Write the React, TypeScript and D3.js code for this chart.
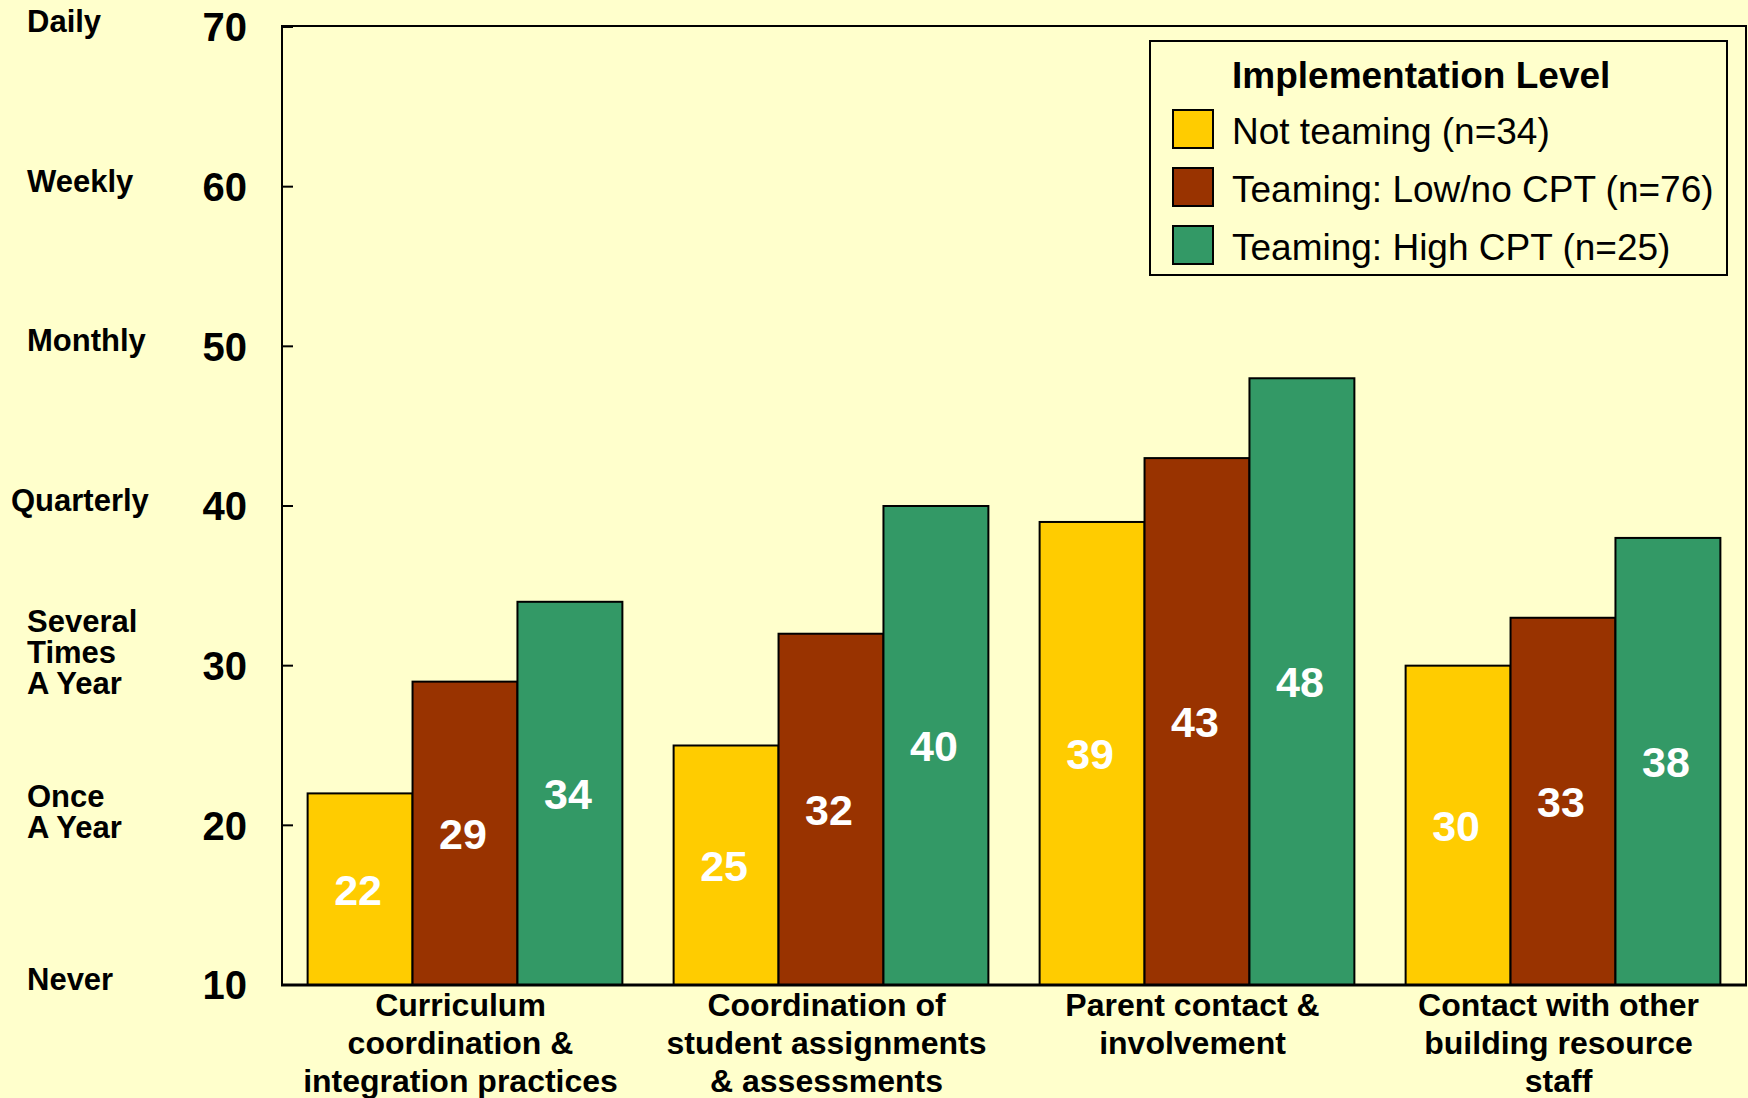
import * as d3 from "d3";

const categories = [
  ["Curriculum", "coordination &", "integration practices"],
  ["Coordination of", "student assignments", "& assessments"],
  ["Parent contact &", "involvement"],
  ["Contact with other", "building resource", "staff"],
];

const seriesNames = [
  "Not teaming (n=34)",
  "Teaming: Low/no CPT (n=76)",
  "Teaming: High CPT (n=25)",
];

const notTeaming = [22, 25, 39, 30];
const lowCpt = [29, 32, 43, 33];
const highCpt = [34, 40, 48, 38];

const yTicks = [10, 20, 30, 40, 50, 60, 70];
const levelLabels = [
  ["Never"],
  ["Once", "A Year"],
  ["Several", "Times", "A Year"],
  ["Quarterly"],
  ["Monthly"],
  ["Weekly"],
  ["Daily"],
];

const colors = ["#FFCC00", "#993300", "#339966"];

const W = 1748;
const H = 1098;
const left = 282;
const right = 1746;
const top = 27;
const bottom = 985;

const App = () => {
  const series = [notTeaming, lowCpt, highCpt];
  const keys = categories.map((c) => c.join(" "));

  const x0 = d3
    .scaleBand<string>()
    .domain(keys)
    .range([left, right])
    .paddingInner(0.14)
    .paddingOuter(0.07);

  const x1 = d3
    .scaleBand<number>()
    .domain(d3.range(series.length))
    .range([0, x0.bandwidth()]);

  const y = d3.scaleLinear().domain([10, 70]).range([bottom, top]);

  const font = "Arial, 'Liberation Sans', Helvetica, sans-serif";

  return (
    <div style={{ position: "absolute", left: 0, top: 0 }}>
      <svg width={W} height={H} style={{ display: "block" }} fontFamily={font}>
        <rect width={W} height={H} fill="#FFFFCC" />

        {/* bars */}
        {keys.map((k, ci) => (
          <g key={k} transform={`translate(${x0(k)},0)`}>
            {series.map((s, si) => {
              const v = s[ci];
              const bx = x1(si)!;
              const bw = x1.bandwidth();
              return (
                <g key={si}>
                  <rect
                    x={bx}
                    y={y(v)}
                    width={bw}
                    height={y(10) - y(v)}
                    fill={colors[si]}
                    stroke="#000"
                    strokeWidth={2}
                  />
                  <text
                    x={bx + bw / 2 - 2}
                    y={(y(v) + y(10)) / 2}
                    dy="0.36em"
                    textAnchor="middle"
                    fill="#fff"
                    fontWeight="bold"
                    fontSize={43}
                  >
                    {v}
                  </text>
                </g>
              );
            })}
          </g>
        ))}

        {/* frame */}
        <rect
          x={left}
          y={top - 1}
          width={right - left}
          height={bottom - top + 1}
          fill="none"
          stroke="#000"
          strokeWidth={2}
        />
        <line x1={left - 1} x2={right + 1} y1={bottom} y2={bottom} stroke="#000" strokeWidth={3} />

        {/* y ticks */}
        {yTicks.map((t, i) => {
          const ty = y(t);
          const lines = levelLabels[i];
          const n = lines.length;
          const lx = lines[0] === "Quarterly" ? 11 : 27;
          const first = ty + 5 - ((n - 1) * 31) / 2 - (n > 1 ? 8 : 0);
          return (
            <g key={t}>
              <line x1={left} x2={left + 11} y1={ty} y2={ty} stroke="#000" strokeWidth={2} />
              <text
                x={247}
                y={ty}
                dy="0.36em"
                textAnchor="end"
                fontWeight="bold"
                fontSize={40}
              >
                {t}
              </text>
              {lines.map((l, li) => (
                <text key={li} x={lx} y={first + li * 31} fontWeight="bold" fontSize={31}>
                  {l}
                </text>
              ))}
            </g>
          );
        })}

        {/* category labels */}
        {categories.map((lines, ci) => {
          const cx = x0(keys[ci])! + x0.bandwidth() / 2 - 4.5;
          return (
            <text key={ci} textAnchor="middle" fontWeight="bold" fontSize={32}>
              {lines.map((l, li) => (
                <tspan key={li} x={cx} y={1016 + li * 38}>
                  {l}
                </tspan>
              ))}
            </text>
          );
        })}

        {/* legend */}
        <g>
          <rect x={1150} y={41} width={577} height={234} fill="#FFFFCC" stroke="#000" strokeWidth={2} />
          <text x={1232} y={88} fontWeight="bold" fontSize={37}>
            Implementation Level
          </text>
          {seriesNames.map((name, i) => (
            <g key={name} transform={`translate(1173,${110 + i * 58})`}>
              <rect width={40} height={38} fill={colors[i]} stroke="#000" strokeWidth={2} />
              <text x={59} y={34} fontSize={37}>
                {name}
              </text>
            </g>
          ))}
        </g>
      </svg>
    </div>
  );
};

export default App;
